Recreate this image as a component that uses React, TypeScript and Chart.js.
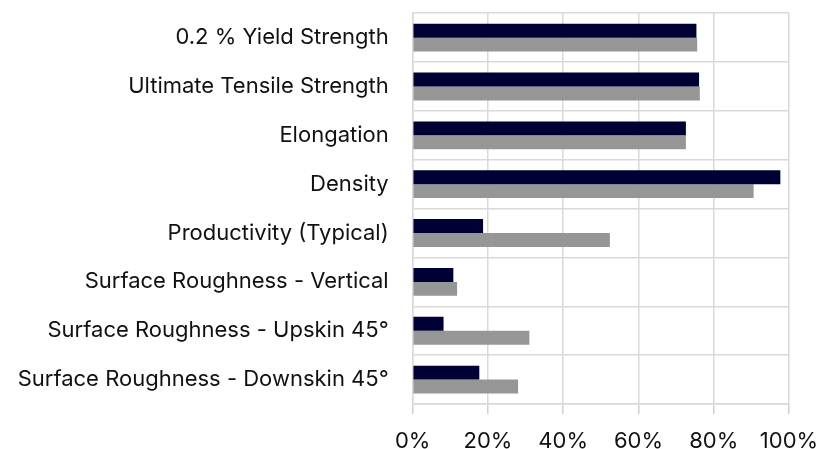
import React, { useEffect, useRef } from "react";
import { Chart, registerables } from "chart.js";

Chart.register(...registerables);

const categories = [
  "0.2 % Yield Strength",
  "Ultimate Tensile Strength",
  "Elongation",
  "Density",
  "Productivity (Typical)",
  "Surface Roughness - Vertical",
  "Surface Roughness - Upskin 45°",
  "Surface Roughness - Downskin 45°",
];

const seriesNavy = [75.4, 76.1, 72.6, 97.7, 18.7, 10.8, 8.2, 17.7];
const seriesGray = [75.6, 76.3, 72.6, 90.6, 52.4, 11.8, 31.0, 28.0];

const xTicks = [0, 20, 40, 60, 80, 100];

export default function App() {
  const canvasRef = useRef<HTMLCanvasElement | null>(null);

  useEffect(() => {
    document.body.style.margin = "0";
    const ctx = canvasRef.current!;
    const chart = new Chart(ctx, {
      type: "bar",
      data: {
        labels: categories,
        datasets: [
          {
            label: "A",
            data: seriesNavy,
            backgroundColor: "#000035",
            borderWidth: 0,
            barPercentage: 1,
            categoryPercentage: 0.57,
          },
          {
            label: "B",
            data: seriesGray,
            backgroundColor: "#969696",
            borderWidth: 0,
            barPercentage: 1,
            categoryPercentage: 0.57,
          },
        ],
      },
      options: {
        indexAxis: "y",
        animation: false,
        responsive: false,
        maintainAspectRatio: false,
        layout: { padding: { top: 13, left: 0, right: 44, bottom: 0 } },
        plugins: { legend: { display: false }, tooltip: { enabled: false } },
        scales: {
          x: {
            min: 0,
            max: 100,
            afterFit: (s: any) => {
              s.height = 45;
            },
            afterBuildTicks: (s: any) => {
              s.ticks = xTicks.map((v) => ({ value: v }));
            },
            grid: {
              color: "#d9d9d9",
              lineWidth: 1.5,
              drawTicks: true,
              tickLength: 10,
              tickColor: "#d0d0d0",
            },
            border: { display: true, color: "#d9d9d9", width: 1.5 },
            ticks: {
              padding: 14,
              color: "#111111",
              font: { family: "Inter", size: 22 },
              callback: (v: any) => v + "%",
              maxRotation: 0,
            },
          },
          y: {
            afterFit: (s: any) => {
              s.width = 412.7;
            },
            grid: {
              color: "#d9d9d9",
              lineWidth: 1.5,
              drawTicks: true,
              tickLength: 24,
              tickColor: "rgba(0,0,0,0)",
              offset: true,
            },
            border: { display: true, color: "#d9d9d9", width: 1.5 },
            ticks: {
              padding: 0,
              color: "#111111",
              font: { family: "Inter", size: 22 },
            },
          },
        },
      },
    });
    return () => chart.destroy();
  }, []);

  return (
    <div style={{ position: "fixed", left: 0, top: 0, width: 833, height: 449, background: "#fff" }}>
      <canvas ref={canvasRef} width={833} height={449} />
    </div>
  );
}
